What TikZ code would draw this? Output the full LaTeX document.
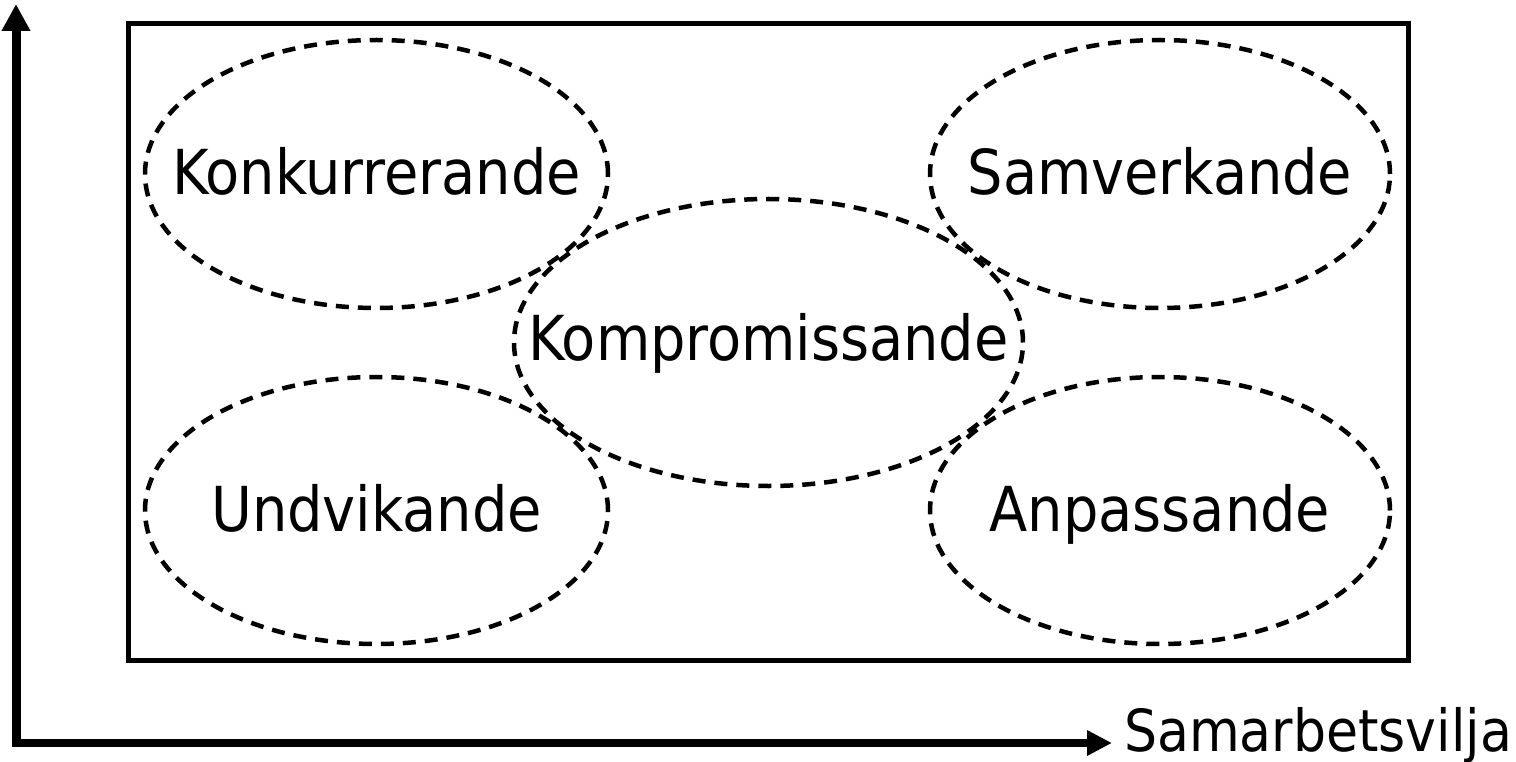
\documentclass[tikz,border=0pt]{standalone}
\usepackage{fontspec}
\setmainfont{DejaVu Sans Condensed}
\usetikzlibrary{arrows.meta,shapes.geometric}
\begin{document}
\begin{tikzpicture}[x=1pt,y=-1pt,
  style oval/.style={ellipse,draw,line width=4.5pt,
    dash pattern=on 13pt off 9pt,inner sep=0pt,outer sep=0pt},
  oval text/.style={inner sep=0pt,font=\fontsize{62}{70}\selectfont,
    text height=42pt,text depth=0pt},
  axisline/.style={line width=9pt},
  frameline/.style={line width=5pt}]
\useasboundingbox (0,0) rectangle (1516,762);
% outer frame
\draw[frameline] (128.5,23.5) rectangle (1408,660);
% style ovals
\node[style oval,minimum width=463pt,minimum height=268pt] (konk) at (376.5,174) {};
\node[style oval,minimum width=460pt,minimum height=268pt] (samv) at (1160,174) {};
\node[style oval,minimum width=509pt,minimum height=287pt] (komp) at (768.5,342.5) {};
\node[style oval,minimum width=463pt,minimum height=267pt] (undv) at (376.5,510.5) {};
\node[style oval,minimum width=460pt,minimum height=267pt] (anpa) at (1160,510.5) {};
% oval labels
\node[oval text] (konkt) at (konk.center) {Konkurrerande};
\node[oval text] (samvt) at (samv.center) {Samverkande};
\node[oval text] (kompt) at ([yshift=3pt]komp.center) {Kompromissande};
\node[oval text] (undvt) at (undv.center) {Undvikande};
\node[oval text] (anpat) at (anpa.center) {Anpassande};
% axes
\coordinate (origin) at (16,747);
\coordinate (ytop) at (16,4);
\coordinate (xstart) at (11.5,743);
\coordinate (xend) at (1112,743);
\draw[axisline,-{Triangle[length=27pt,width=27pt]}] (origin) -- (ytop);
\draw[line width=8pt,-{Triangle[length=25pt,width=24pt]}] (xstart) -- (xend);
\node[anchor=base west,inner sep=0pt,font=\fontsize{58}{66}\selectfont] (xlabel) at (1124,751) {\scalebox{0.998}[1]{Samarbetsvilja}};
\end{tikzpicture}
\end{document}
